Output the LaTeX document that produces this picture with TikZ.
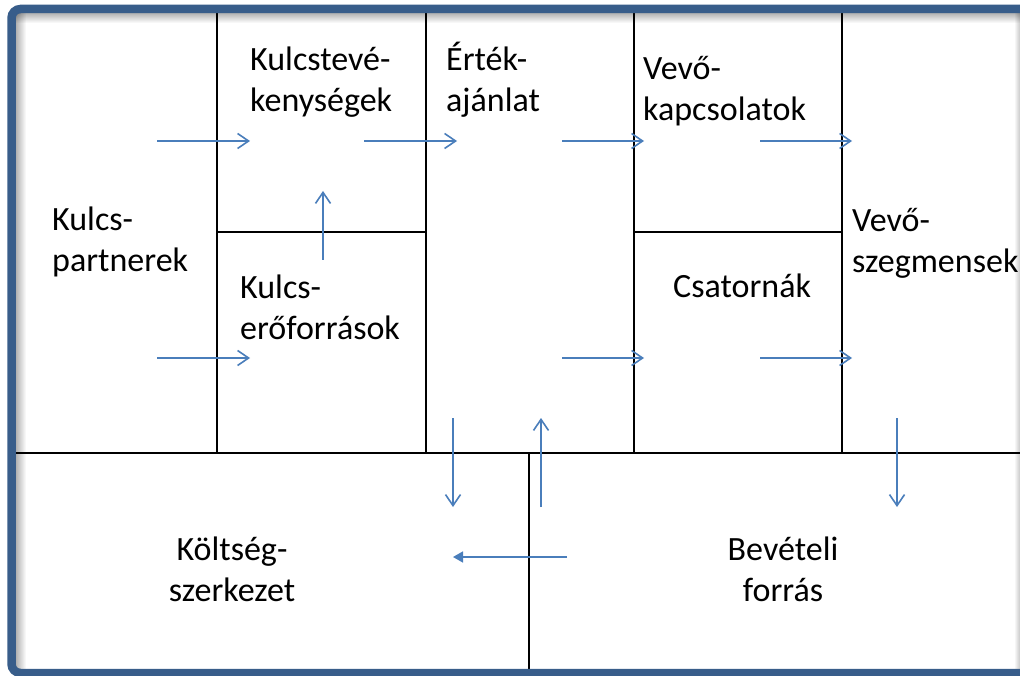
\documentclass[tikz,border=0pt]{standalone}
\usepackage{fontspec}
\setmainfont{Carlito}
\usetikzlibrary{arrows.meta}
\definecolor{framebl}{HTML}{385D8A}
\definecolor{flowbl}{HTML}{4A7EBB}
\tikzset{
  grid/.style={draw=black, line width=1.8pt},
  flow/.style={draw=flowbl, line width=1.6pt, -{Straight Barb[length=11pt,width=15pt,line width=1.6pt]}},
  cash/.style={draw=flowbl, line width=1.6pt, -{Triangle[length=10pt,width=11pt]}},
  lbl/.style={font=\fontsize{34}{41}\selectfont, inner sep=0pt, align=left, anchor=base west},
  clbl/.style={font=\fontsize{34}{41}\selectfont, inner sep=0pt, align=center, anchor=base},
}
\begin{document}
\begin{tikzpicture}[x=1pt,y=-1pt]
\useasboundingbox (0,0) rectangle (1020,676);
\clip (0,0) rectangle (1020,676);
\fill[white] (0,0) rectangle (1020,676);

% soft inner shadow along the top, left and right edges
\foreach \i in {0,...,9}{
  \pgfmathsetmacro{\op}{0.30*(1-\i/10)}
  \draw[black, opacity=\op, line width=1pt] (16,13.5+\i) -- (1020,13.5+\i);
  \draw[black, opacity=\op, line width=1pt] (16.5+\i,13) -- (16.5+\i,669);
}
\foreach \i in {0,...,4}{
  \pgfmathsetmacro{\op}{0.18*(1-\i/5)}
  \draw[black, opacity=\op, line width=1pt] (1019.5-\i,13) -- (1019.5-\i,669);
}

% canvas grid
\draw[grid] (217,13) -- (217,453);
\draw[grid] (426,13) -- (426,453);
\draw[grid] (634,13) -- (634,453);
\draw[grid] (842,13) -- (842,453);
\draw[grid] (16,453) -- (1020,453);
\draw[grid] (217,232) -- (426,232);
\draw[grid] (634,232) -- (842,232);
\draw[grid] (529,453) -- (529,669);

% outer frame: top, left and bottom sides; it runs on past the right edge
\draw[framebl, line width=8.5pt, rounded corners=9pt]
  (1030,9) -- (11.5,9) -- (11.5,673) -- (1030,673);

% block titles (anchored at the baseline of the last line)
\node[lbl] (kp) at (52,272) {Kulcs-\\partnerek};
\node[lbl] (kt) at (250,112) {Kulcstevé-\\kenységek};
\node[lbl] (ke) at (240,339) {Kulcs-\\erőforrások};
\node[lbl] (ea) at (446,112) {Érték-\\ajánlat};
\node[lbl] (vk) at (643,121) {Vevő-\\kapcsolatok};
\node[lbl] (cs) at (673,298) {Csatornák};
\node[lbl] (vs) at (852,273) {Vevő-\\szegmensek};
\node[clbl] (ksz) at (232,601) {Költség-\\szerkezet};
\node[clbl] (bf) at (783,601) {Bevételi\\forrás};

% arrow end points
\coordinate (a1s) at (157,141); \coordinate (a1e) at (250,141);
\coordinate (a2s) at (364,141); \coordinate (a2e) at (457,141);
\coordinate (a3s) at (562,141); \coordinate (a3e) at (644,141);
\coordinate (a4s) at (760,141); \coordinate (a4e) at (852,141);
\coordinate (b1s) at (157,358); \coordinate (b1e) at (250,358);
\coordinate (b3s) at (562,358); \coordinate (b3e) at (644,358);
\coordinate (b4s) at (760,358); \coordinate (b4e) at (852,358);
\coordinate (ups) at (323,260); \coordinate (upe) at (323,191);
\coordinate (c1s) at (453,418); \coordinate (c1e) at (453,507);
\coordinate (r1s) at (541,507); \coordinate (r1e) at (541,418);
\coordinate (r2s) at (897,418); \coordinate (r2e) at (897,507);
\coordinate (m1s) at (567,557); \coordinate (m1e) at (453,557);

% flows
\draw[flow] (a1s) -- (a1e);
\draw[flow] (a2s) -- (a2e);
\draw[flow] (a3s) -- (a3e);
\draw[flow] (a4s) -- (a4e);
\draw[flow] (b1s) -- (b1e);
\draw[flow] (b3s) -- (b3e);
\draw[flow] (b4s) -- (b4e);
\draw[flow] (ups) -- (upe);
\draw[flow] (c1s) -- (c1e);
\draw[flow] (r1s) -- (r1e);
\draw[flow] (r2s) -- (r2e);
\draw[cash] (m1s) -- (m1e);
\end{tikzpicture}
\end{document}
